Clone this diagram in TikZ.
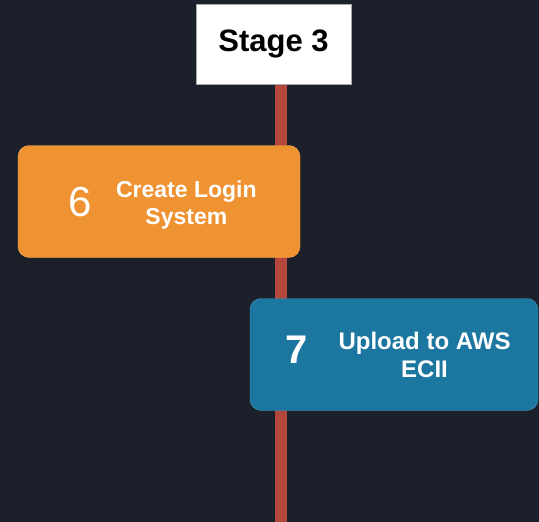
\documentclass[tikz,border=0pt]{standalone}
\usepackage{fontspec}
\setmainfont{Liberation Sans}
\usetikzlibrary{positioning}
\definecolor{bgdark}{HTML}{1C202B}
\definecolor{stageorange}{HTML}{EF9232}
\definecolor{stageblue}{HTML}{1B76A0}
\definecolor{timered}{HTML}{B4473B}
\tikzset{
	stagebox/.style={draw=gray!70, fill=white, line width=1pt, minimum width=155pt, minimum height=80pt, font=\bfseries\fontsize{31}{34}\selectfont},
	taskbox/.style={rounded corners=11pt, minimum height=112pt},
	tasknum/.style={text=white, inner sep=0pt, font=\fontsize{42}{42}\selectfont},
	tasktext/.style={text=white, inner sep=0pt, align=center, font=\bfseries\fontsize{23}{27}\selectfont},
	timeline/.style={draw=timered, line width=12pt}
}
\begin{document}
\begin{tikzpicture}[x=1pt, y=-1pt, node distance=26pt]
	\fill[bgdark] (0,0) rectangle (539,522);
	\useasboundingbox (0,0) rectangle (539,522);
				\node (S) 	[stagebox] at (273.5,44) 		{Stage 3};
				\coordinate (E) at (281,522);
				\draw[timeline]	(S.south -| E)	--	(E);
				\node (T6) 	[taskbox, fill=stageorange, draw=stageorange!80!white, minimum width=282pt] at (159,201.5) {};
				\node (T7) 	[taskbox, fill=stageblue, draw=stageblue!80!white, minimum width=288pt] at (394,354.5) {};
				\node (n6) 	[tasknum] at (80,202) 		{6};
				\node (t6) 	[tasktext, right=24pt of n6, yshift=-3pt] 	{Create Login\\System};
				\node (n7) 	[tasknum, font=\bfseries\fontsize{40}{40}\selectfont] at (297,350) 		{7};
				\node (t7) 	[tasktext, font=\bfseries\fontsize{24}{28}\selectfont, right=30pt of n7, yshift=-5pt] 	{Upload to AWS\\ECII};
\end{tikzpicture}
\end{document}
